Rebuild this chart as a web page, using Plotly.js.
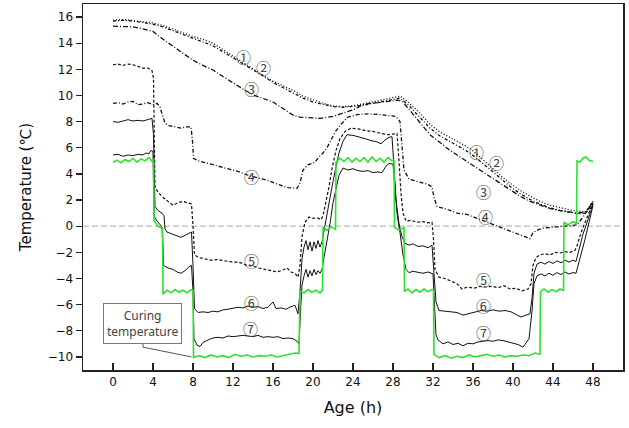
<!DOCTYPE html>
<html>
<head>
<meta charset="utf-8">
<script src="https://cdn.plot.ly/plotly-3.0.1.min.js"></script>
<style>html,body{margin:0;padding:0;background:#fff;}#chart{width:629px;height:428px;}</style>
</head>
<body>
<div id="chart"></div>
<script>
// ---- Data ----
const curingX = [0,0.4,0.8,1.2,1.6,2.0,2.4,2.8,3.2,3.6,3.9,4.05,
  4.1,4.5,4.95,
  5.0,5.4,5.8,6.2,6.6,7.0,7.4,7.8,8.0,
  8.05,8.6,9.2,9.8,10.4,11,11.6,12.2,12.8,13.4,14,14.6,15.2,15.8,16.4,17,17.6,18.2,18.6,
  18.7,19.1,19.5,19.9,20.3,20.7,20.95,
  21.0,21.4,21.8,22.25,
  22.3,22.7,23.1,23.5,23.9,24.3,24.7,25.1,25.5,25.9,26.3,26.7,27.1,27.5,27.9,28.1,
  28.15,28.6,29.1,
  29.15,29.5,29.9,30.3,30.7,31.1,31.5,31.9,32.05,
  32.1,32.6,33.2,33.8,34.4,35,35.6,36.2,36.8,37.4,38,38.6,39.2,39.8,40.4,41,41.6,42.2,42.7,
  42.75,43.1,43.5,43.9,44.3,44.7,45.05,
  45.1,45.5,46.0,46.35,
  46.4,46.7,47.0,47.3,47.6,48.0];
const curingT = [4.9,5.05,4.85,5.1,4.95,5.2,4.9,5.15,5.0,5.25,4.95,5.1,
  0.4,0.0,-0.2,
  -5.2,-4.9,-5.1,-4.85,-5.05,-4.9,-5.1,-4.85,-4.9,
  -10.05,-9.9,-10.05,-9.85,-10.0,-9.9,-10.05,-9.8,-9.95,-9.85,-10.0,-9.9,-9.95,-9.85,-10.0,-9.9,-9.85,-9.7,-9.75,
  -4.95,-5.1,-4.85,-5.05,-4.9,-5.1,-4.9,
  -0.1,-0.3,-0.05,-0.25,
  4.9,5.2,4.95,5.25,4.9,5.2,4.95,5.25,4.9,5.3,4.95,5.2,4.9,5.25,5.0,5.1,
  -0.1,-0.3,-0.1,
  -5.0,-4.8,-5.1,-4.85,-5.05,-4.8,-5.0,-4.85,-4.9,
  -9.8,-10.05,-9.9,-10.1,-9.95,-10.05,-9.85,-10.0,-9.9,-9.8,-9.95,-9.85,-10.0,-9.9,-9.95,-9.85,-9.9,-9.7,-9.8,
  -5.0,-4.8,-5.05,-4.85,-5.0,-4.8,-4.9,
  0.3,0.1,0.35,0.2,
  5.0,4.9,5.2,5.3,5.05,4.95];

const s1X = [0,0.5,1.3,2,3,4,5,6,7,8,9,10,11,12,13,14,15,16,17,18,19,20,21,22,23,24,25,26,27,28,28.7,29.5,30.5,31.7,32.7,33.7,34.7,35.7,36.7,37.7,38.7,39.7,40.7,41.7,42.7,43.7,44.7,45.7,46.5,47.3,48];
const s1T = [15.75,15.8,15.8,15.75,15.65,15.55,15.35,15.1,14.8,14.5,14.3,14.0,13.5,13.0,12.5,12.0,11.55,11.1,10.75,10.4,9.95,9.65,9.4,9.2,9.15,9.2,9.35,9.55,9.7,9.85,9.95,9.5,8.8,7.8,7.2,6.8,6.35,5.95,5.3,4.6,3.9,3.3,2.75,2.3,1.9,1.6,1.4,1.25,1.15,1.1,1.9];

const s2X = [0,1,2,3,4,5,6,7,8,9,10,11,12,13,14,15,16,17,18,19,20,21,22,23,24,25,26,27,28,28.7,29.5,30.5,31.7,32.7,33.7,34.7,35.7,36.7,37.7,38.7,39.7,40.7,41.7,42.7,43.7,44.7,45.7,46.5,47.3,48];
const s2T = [15.7,15.75,15.7,15.6,15.45,15.25,14.95,14.65,14.35,14.1,13.8,13.35,12.9,12.4,11.95,11.5,11.0,10.6,10.2,9.8,9.5,9.3,9.15,9.1,9.15,9.25,9.4,9.55,9.7,9.8,9.3,8.5,7.5,6.9,6.5,6.05,5.6,5.0,4.35,3.7,3.05,2.5,2.05,1.7,1.4,1.2,1.05,0.95,1.0,1.8];

const s3X = [0,1,2,3,4,5,6,7,8,9,10,11,12,13,14,15,16,17,18,18.7,19.5,20.7,22,23,24,25,25.7,26.5,27.5,28.5,29,30,31,31.7,32.7,33.7,34.7,35.7,36.7,37.7,38.7,39.7,40.7,41.7,42.7,43.7,44.7,45.7,46.5,47.2,48];
const s3T = [15.3,15.3,15.25,15.1,14.9,14.3,13.75,13.2,12.7,12.3,11.95,11.45,10.95,10.5,10.05,9.8,9.5,9.0,8.5,8.35,8.3,8.25,8.4,8.65,8.9,9.3,9.4,9.45,9.55,9.65,9.5,8.6,7.7,7.0,6.4,5.8,5.3,4.8,4.3,3.8,3.3,2.8,2.3,1.9,1.6,1.35,1.2,1.1,1.0,1.1,1.7];

const s4X = [0,0.5,1,1.5,2,2.5,3,3.5,4,4.4,4.7,4.9,5.2,5.6,6.2,6.8,7.4,7.8,7.95,8.05,8.5,9.5,10.5,11.5,12.5,13.5,14.5,15.5,16.5,17.5,18.4,18.7,19,19.5,20.2,20.6,21,21.4,21.8,22.3,22.8,23.5,24.5,25.5,26.5,27.5,28.3,28.7,28.9,29.1,29.6,30.5,31.5,31.9,32.1,32.4,33.4,34.4,35.4,36.4,37.4,38.4,39.4,40.4,41.2,41.7,42.0,42.4,43,44,45,45.7,46.4,47,47.5,48];
const s4T = [9.4,9.45,9.35,9.5,9.55,9.3,9.35,9.45,9.3,9.4,9.1,8.6,7.9,7.7,7.6,7.5,7.6,7.6,6.5,5.2,5.0,4.8,4.6,4.4,4.2,3.9,3.7,3.5,3.2,2.95,2.9,3.3,4.3,4.7,4.9,5.3,5.6,6.0,6.6,7.3,7.8,8.35,8.55,8.6,8.55,8.45,8.4,8.0,6.0,4.3,3.6,3.4,3.2,3.0,2.2,1.5,1.3,1.0,0.9,0.6,0.3,0.0,-0.3,-0.55,-0.8,-0.95,-0.5,-0.3,-0.15,-0.05,0.0,0.05,0.1,0.7,1.3,1.9];

const s5X = [0,0.5,1,1.5,2,2.5,3,3.5,3.9,4.05,4.12,4.2,4.5,5,5.5,6,6.5,7,7.4,7.85,8.0,8.15,8.6,9.2,9.8,10.4,11,11.6,12.2,12.8,13.4,14,14.6,15.2,15.8,16.4,17,17.4,17.8,18.2,18.5,18.7,18.9,19.2,19.6,20.0,20.4,20.8,21.0,21.3,21.6,21.9,22.3,22.7,23.2,23.8,24.5,25.3,26,26.8,27.5,28.0,28.4,28.6,28.8,29.0,29.3,29.8,30.4,31,31.5,31.9,32.05,32.2,32.6,33.2,33.8,34.4,34.9,35.5,36.1,36.7,37.3,37.9,38.5,39.1,39.7,40.3,40.9,41.5,41.8,42.0,42.3,42.7,43.2,43.7,44.2,44.7,45.2,45.7,46.2,46.4,46.8,47.3,48];
const s5T = [12.35,12.4,12.3,12.4,12.35,12.2,12.1,12.1,11.9,11.3,7.0,3.0,2.6,2.2,1.9,1.6,1.8,1.9,1.8,1.7,0.0,-2.2,-2.4,-2.5,-2.6,-2.55,-2.65,-2.7,-2.75,-2.8,-3.0,-3.05,-3.2,-3.3,-3.45,-3.5,-3.35,-3.2,-3.5,-3.6,-3.9,-3.0,-0.8,0.3,0.7,0.6,0.65,0.5,0.8,1.8,3.0,4.4,5.8,6.7,7.25,7.5,7.45,7.3,7.25,7.1,7.0,7.05,7.1,5.0,2.5,1.0,0.4,0.45,0.3,0.35,0.25,0.3,-1.0,-3.3,-3.9,-4.0,-4.2,-4.4,-4.8,-4.65,-4.75,-4.6,-4.65,-4.6,-4.7,-4.55,-4.8,-4.75,-4.95,-4.8,-4.4,-3.0,-2.4,-2.2,-2.1,-2.2,-2.0,-2.05,-1.95,-2.0,-1.85,-1.5,-0.5,0.5,1.8];

const s6X = [0,0.5,1,1.5,2,2.5,3,3.5,3.9,4.05,4.12,4.2,4.5,4.9,5.1,5.2,5.4,5.9,6.4,6.8,7.2,7.6,7.85,8.0,8.15,8.5,9,9.5,10,10.5,11,11.5,12,12.5,13,13.5,14,14.5,15,15.5,16,16.3,16.8,17.3,17.8,18.2,18.5,18.7,18.9,19.1,19.3,19.5,19.7,19.9,20.1,20.3,20.5,20.7,20.9,21.1,21.4,21.8,22.2,22.6,23.0,23.4,24,24.6,25.2,25.8,26.4,26.8,27.2,27.6,27.9,28.1,28.3,28.6,28.9,29.2,29.6,30.0,30.5,31.0,31.5,31.9,32.1,32.3,32.6,33.2,33.8,34.4,35,35.6,36.2,36.8,37.4,38,38.6,39.2,39.8,40.4,40.8,41.3,41.7,41.9,42.1,42.4,42.8,43.2,43.6,44,44.4,44.8,45.2,45.6,46,46.3,46.6,47.0,47.5,48];
const s6T = [8.0,7.95,8.05,8.15,8.05,8.1,8.05,8.15,8.25,7.0,3.0,1.5,1.2,1.0,0.8,-0.2,-0.45,-0.6,-0.75,-0.85,-0.7,-0.55,-0.45,-3.0,-6.3,-6.6,-6.55,-6.6,-6.5,-6.55,-6.4,-6.35,-6.3,-6.2,-6.25,-6.1,-6.2,-6.15,-6.3,-6.2,-5.8,-6.3,-6.25,-6.35,-6.15,-6.05,-6.7,-5.0,-2.5,-1.6,-1.1,-1.8,-1.2,-1.9,-1.2,-1.7,-1.1,-1.6,-1.2,-0.3,1.0,2.6,4.2,5.6,6.5,7.0,6.95,6.85,6.7,6.55,6.45,6.3,6.6,6.8,6.85,4.5,2.0,0.2,-0.8,-1.3,-1.45,-1.35,-1.55,-1.5,-1.65,-1.45,-4.0,-5.8,-6.45,-6.5,-6.55,-6.6,-6.8,-6.7,-6.6,-6.45,-6.5,-6.4,-6.5,-6.45,-6.55,-6.8,-6.95,-6.8,-6.7,-5.5,-3.6,-2.9,-2.75,-2.9,-2.7,-2.85,-2.65,-2.8,-2.6,-2.75,-2.6,-2.7,-1.8,-0.6,0.5,1.7];

const s7X = [0,0.5,1,1.5,2,2.5,3,3.3,3.6,3.8,4.0,4.05,4.1,4.4,4.7,4.9,5.0,5.05,5.5,6,6.4,6.8,7.2,7.6,7.85,8.0,8.1,8.4,8.7,9,9.5,10,10.5,11,11.5,12,12.5,13,13.5,14,14.5,15,15.5,16,16.5,17,17.5,18,18.4,18.6,18.75,18.9,19.1,19.3,19.5,19.7,19.9,20.1,20.3,20.5,20.7,20.9,21.1,21.4,21.7,22.0,22.3,22.6,23.0,23.5,24,24.5,25,25.5,26,26.5,26.9,27.3,27.6,28,28.2,28.4,28.7,29.0,29.3,29.6,30,30.5,31,31.5,32,32.15,32.3,32.5,33,33.5,34,34.5,35,35.5,36,36.5,37,37.5,38,38.5,39,39.5,40,40.5,41,41.3,41.6,41.9,42.1,42.4,42.8,43.2,43.6,44,44.4,44.8,45.2,45.6,46,46.3,46.7,47.2,47.6,48];
const s7T = [5.45,5.5,5.35,5.45,5.4,5.5,5.45,5.6,5.55,5.8,5.7,3.0,0.8,0.4,0.1,-0.05,-1.5,-3.0,-3.2,-3.3,-3.5,-3.6,-3.4,-3.1,-3.0,-5.0,-8.6,-9.1,-9.2,-8.9,-8.7,-8.55,-8.5,-8.55,-8.4,-8.45,-8.4,-8.35,-8.4,-8.45,-8.35,-8.5,-8.45,-8.5,-8.45,-8.6,-8.55,-8.6,-8.8,-9.0,-6.5,-4.5,-3.8,-3.3,-3.9,-3.4,-3.8,-3.3,-3.7,-3.4,-3.6,-3.3,-2.4,-1.2,0.2,1.8,3.0,3.9,4.45,4.3,4.4,4.25,4.2,4.25,4.1,4.15,4.1,4.6,4.8,4.75,3.0,1.0,-0.5,-2.2,-3.3,-3.55,-3.45,-3.5,-3.6,-3.5,-3.65,-6.0,-8.3,-8.7,-9.0,-8.85,-9.05,-8.95,-9.15,-8.95,-9.0,-8.85,-8.8,-8.75,-8.8,-8.7,-8.75,-8.85,-8.9,-9.05,-9.25,-8.9,-8.6,-6.5,-4.4,-3.8,-3.65,-3.8,-3.6,-3.75,-3.55,-3.7,-3.5,-3.65,-3.55,-3.6,-2.5,-1.0,0.3,1.6];

// circled-number labels
const labelText = ['①','②','③','④','⑤','⑥','⑦','①','②','③','④','⑤','⑥','⑦'];
const labelX = [13.0,15.0,13.85,13.85,13.85,13.85,13.7,36.3,38.3,37.05,37.2,37.05,37.05,37.05];
const labelY = [12.97,12.15,10.55,3.78,-2.6,-5.8,-7.84,5.75,4.85,2.63,0.71,-4.06,-6.1,-8.15];

const xTickStep = 4, yTickStep = 2;
const calloutText = 'Curing<br>temperature';

// ---- Traces ----
const black = '#111111';
function blk(x, y, dash, w) {
  return {x: x, y: y, type: 'scatter', mode: 'lines', hoverinfo: 'skip',
          line: {color: black, width: w || 1.2, dash: dash}};
}
const traces = [
  blk(s1X, s1T, '1px,2px', 1.4),
  blk(s2X, s2T, '3px,2px,1px,2px', 1.3),
  blk(s3X, s3T, '5px,2px,1px,2px', 1.3),
  blk(s4X, s4T, '4px,2px,1px,2px', 1.3),
  blk(s5X, s5T, '3px,2px', 1.2),
  blk(s6X, s6T, 'solid', 1.0),
  blk(s7X, s7T, 'solid', 1.0),
  {x: curingX, y: curingT, type: 'scatter', mode: 'lines', hoverinfo: 'skip',
   line: {color: '#2ee02e', width: 1.6}}
];

const annotations = labelText.map((t, i) => ({
  x: labelX[i], y: labelY[i], xref: 'x', yref: 'y', text: t, showarrow: false,
  font: {family: 'Noto Sans CJK JP', size: 15, color: '#444'}, borderpad: 0
}));
annotations.push({
  x: 2.92, y: -7.45, xref: 'x', yref: 'y', text: calloutText, showarrow: false,
  font: {family: 'Noto Sans', size: 12, color: '#444'},
  bordercolor: '#777', borderwidth: 1, borderpad: 3, bgcolor: '#fff'
});

const layout = {
  width: 629, height: 428,
  margin: {l: 83, r: 6, t: 4, b: 58},
  paper_bgcolor: '#fff', plot_bgcolor: '#fff',
  showlegend: false,
  font: {family: 'DejaVu Sans', color: '#111'},
  xaxis: {
    range: [-3, 51], dtick: xTickStep, tick0: 0,
    ticks: 'inside', ticklen: 7, tickwidth: 1.2, tickcolor: '#222',
    showline: true, linecolor: '#222', linewidth: 1.5, mirror: true,
    showgrid: false, zeroline: false,
    tickfont: {family: 'DejaVu Sans', size: 12, color: '#111'},
    title: {text: 'Age (h)', font: {family: 'DejaVu Sans', size: 16, color: '#111'}, standoff: 14}
  },
  yaxis: {
    range: [-11, 17], dtick: yTickStep, tick0: 0,
    ticks: 'outside', ticklen: 6, tickwidth: 1.2, tickcolor: '#222',
    showline: true, linecolor: '#222', linewidth: 1.5, mirror: true,
    showgrid: false, zeroline: false,
    tickfont: {family: 'DejaVu Sans', size: 12, color: '#111'},
    title: {text: 'Temperature (℃)', font: {family: 'DejaVu Sans', size: 15, color: '#111'}, standoff: 12}
  },
  shapes: [
    {type: 'line', xref: 'paper', x0: 0, x1: 1, yref: 'y', y0: 0, y1: 0, layer: 'below',
     line: {color: '#bbbbbb', width: 1.3, dash: '6px,3px'}},
    {type: 'path', xref: 'x', yref: 'y', path: 'M 3.0,-8.87 L 3.0,-9.25 L 7.85,-10.0',
     line: {color: '#555', width: 1}}
  ],
  annotations: annotations
};

Plotly.newPlot('chart', traces, layout, {displayModeBar: false, staticPlot: true});
</script>
</body>
</html>
